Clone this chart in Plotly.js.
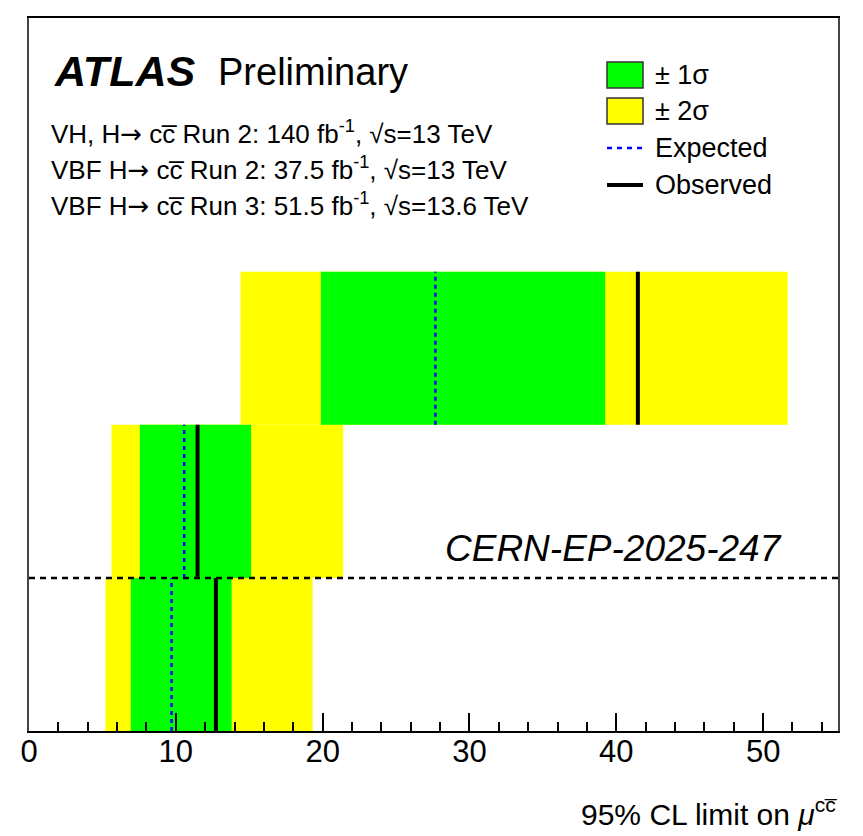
<!DOCTYPE html>
<html>
<head>
<meta charset="utf-8">
<script src="https://cdn.plot.ly/plotly-3.0.1.min.js"></script>
<style>html,body{margin:0;padding:0;background:#fff;}#chart{width:863px;height:836px;}</style>
</head>
<body>
<div id="chart"></div>
<script>
// Rows (bottom to top) and their limits on mu_cc
const rows = ['Combined', 'VH', 'VBF'];
const rowPos = [0.5, 1.5, 2.5];
const expected = [9.71, 10.57, 27.68];
const observed = [12.73, 11.48, 41.47];
const sigma1Lo = [6.93, 7.55, 19.88];
const sigma1Hi = [13.80, 15.13, 39.24];
const sigma2Lo = [5.21, 5.62, 14.41];
const sigma2Hi = [19.32, 21.40, 51.67];
const tickVals = [0, 10, 20, 30, 40, 50];
const tickText = ['0', '10', '20', '30', '40', '50'];

const FONT = 'Liberation Sans, Arial, Helvetica, sans-serif';
const cbar = 'c\u0305';
const arrow = '<span style="font-family:DejaVu Sans">→</span>';

const traces = [];
traces.push({
  type: 'bar', orientation: 'h', name: '± 2σ',
  y: rowPos, base: sigma2Lo, x: sigma2Hi.map((h, i) => h - sigma2Lo[i]),
  width: 1, marker: {color: '#ffff00', line: {width: 0}}, showlegend: false, hoverinfo: 'skip'
});
traces.push({
  type: 'bar', orientation: 'h', name: '± 1σ',
  y: rowPos, base: sigma1Lo, x: sigma1Hi.map((h, i) => h - sigma1Lo[i]),
  width: 1, marker: {color: '#00ff00', line: {width: 0}}, showlegend: false, hoverinfo: 'skip'
});
rows.forEach((r, i) => {
  traces.push({
    type: 'scatter', mode: 'lines', name: 'Expected ' + r,
    x: [expected[i], expected[i]], y: [rowPos[i] - 0.5, rowPos[i] + 0.5],
    line: {color: '#0000ff', width: 2.5, dash: '4px,4px'}, showlegend: false, hoverinfo: 'skip'
  });
  traces.push({
    type: 'scatter', mode: 'lines', name: 'Observed ' + r,
    x: [observed[i], observed[i]], y: [rowPos[i] - 0.5, rowPos[i] + 0.5],
    line: {color: '#000000', width: 4}, showlegend: false, hoverinfo: 'skip'
  });
});

// paper helpers (plot area: x 29..838 px, y 18..731 px)
const px = v => (v - 29) / 809;
const py = v => (731 - v) / 713;

const shapes = [
  {type: 'line', xref: 'paper', yref: 'y', x0: 0, x1: 1, y0: 1, y1: 1,
   line: {color: '#000', width: 2.5, dash: '6px,5px'}, layer: 'above'},
  // legend swatches
  {type: 'rect', xref: 'paper', yref: 'paper', x0: px(607), x1: px(643), y0: py(88), y1: py(62),
   fillcolor: '#00ff00', line: {color: '#333', width: 1.5}},
  {type: 'rect', xref: 'paper', yref: 'paper', x0: px(607), x1: px(643), y0: py(124), y1: py(98),
   fillcolor: '#ffff00', line: {color: '#333', width: 1.5}},
  {type: 'line', xref: 'paper', yref: 'paper', x0: px(607), x1: px(643), y0: py(148), y1: py(148),
   line: {color: '#0000ff', width: 2.5, dash: '5px,5px'}},
  {type: 'line', xref: 'paper', yref: 'paper', x0: px(607), x1: px(643), y0: py(185), y1: py(185),
   line: {color: '#000', width: 4}}
];

const ann = (text, x, y, size, extra) => Object.assign({
  text: text, xref: 'paper', yref: 'paper', x: x, y: y, xanchor: 'left', yanchor: 'middle',
  showarrow: false, font: {family: FONT, size: size, color: '#000'}
}, extra || {});

const annotations = [
  ann('<b><i>ATLAS</i></b>', px(52), py(71), 43),
  ann('Preliminary', px(216), py(72), 38),
  ann('VH, H' + arrow + ' c' + cbar + ' Run 2: 140 fb<sup>-1</sup>, √s=13 TeV', px(49), py(132), 26),
  ann('VBF H' + arrow + ' c' + cbar + ' Run 2: 37.5 fb<sup>-1</sup>, √s=13 TeV', px(49), py(168), 26),
  ann('VBF H' + arrow + ' c' + cbar + ' Run 3: 51.5 fb<sup>-1</sup>, √s=13.6 TeV', px(49), py(205), 26),
  ann('± 1σ', px(653), py(75), 27),
  ann('± 2σ', px(653), py(111), 27),
  ann('Expected', px(653), py(148), 27),
  ann('Observed', px(653), py(185), 27),
  ann('<i>CERN-EP-2025-247</i>', px(784), py(548), 37, {xanchor: 'right'}),
  ann('95% CL limit on <i>μ</i><sup>c' + cbar + '</sup>', px(840), py(833), 30, {xanchor: 'right', yanchor: 'bottom'})
];

const layout = {
  width: 863, height: 836,
  margin: {l: 29, r: 25, t: 18, b: 105, pad: 0},
  paper_bgcolor: '#fff', plot_bgcolor: '#fff',
  barmode: 'overlay', showlegend: false, hovermode: false,
  font: {family: FONT, color: '#000'},
  xaxis: {
    range: [0, 55.1], tickvals: tickVals, ticktext: tickText,
    ticks: 'inside', ticklen: 18, tickwidth: 2, tickcolor: '#000',
    ticklabelstandoff: -8,
    minor: {dtick: 2, ticks: 'inside', ticklen: 9, tickwidth: 2, tickcolor: '#000', showgrid: false},
    showgrid: false, zeroline: false,
    showline: true, linecolor: '#000', linewidth: 2, mirror: true,
    tickfont: {family: FONT, size: 31, color: '#000'}
  },
  yaxis: {
    range: [0, 4.657], showticklabels: false, ticks: '', showgrid: false, zeroline: false,
    showline: true, linecolor: '#444', linewidth: 2, mirror: true
  },
  shapes: shapes,
  annotations: annotations
};

Plotly.newPlot('chart', traces, layout, {displayModeBar: false, staticPlot: true});
</script>
</body>
</html>
